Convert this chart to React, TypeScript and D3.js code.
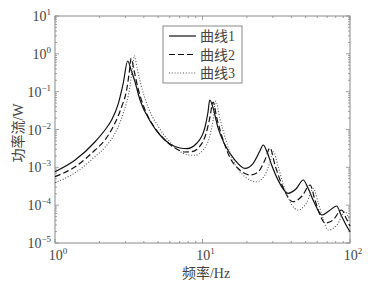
import React from "react";
import * as d3 from "d3";

// 曲线1 (solid)
const freq1 = [1, 1.37, 1.87, 2.18, 2.42, 2.69, 2.9, 3.11, 3.28, 3.49, 3.77, 4.41, 5.15, 6.02, 7.04, 7.85, 9.18, 10.4, 10.9, 11.2, 11.8, 12.7, 14.2, 16.6, 19.4, 22.0, 24.5, 25.8, 27.4, 29.6, 32.5, 38.0, 43.0, 48.2, 51.9, 57.0, 64.6, 72.0, 81.2, 86.9, 94.0, 100];
const power1 = [7.66e-4, 1.56e-3, 4.75e-3, 9.7e-3, 1.78e-2, 4.92e-2, 0.166, 0.646, 0.374, 0.18, 0.0602, 0.0168, 7.15e-3, 4.13e-3, 3.24e-3, 3.14e-3, 4.4e-3, 0.0116, 0.029, 0.0602, 0.037, 0.0116, 3.89e-3, 1.56e-3, 9.42e-4, 1.26e-3, 2.7e-3, 3.89e-3, 2.54e-3, 1.08e-3, 4.62e-4, 2.06e-4, 2.67e-4, 4.62e-4, 2.84e-4, 1.21e-4, 5.5e-5, 7.0e-5, 9.5e-5, 5.5e-5, 2.99e-5, 1.99e-5];

// 曲线2 (dashed)
const freq2 = [1, 1.37, 1.87, 2.18, 2.48, 2.83, 3.06, 3.19, 3.28, 3.43, 3.65, 4.08, 4.76, 5.57, 6.51, 7.61, 8.49, 9.62, 10.6, 11.2, 11.8, 12.5, 13.8, 15.4, 17.9, 21.0, 23.8, 26.5, 28.7, 31.0, 34.6, 41.1, 47.3, 53.6, 57.9, 62.6, 67.7, 76.7, 87.8, 94.0, 100];
const power2 = [5.65e-4, 1.04e-3, 2.87e-3, 5.27e-3, 1.19e-2, 4.0e-2, 0.111, 0.331, 0.762, 0.374, 0.125, 0.0327, 0.0109, 5.27e-3, 3.24e-3, 2.54e-3, 2.59e-3, 3.66e-3, 8.07e-3, 0.0201, 0.0533, 0.0201, 5.27e-3, 1.76e-3, 8.49e-4, 6.27e-4, 7.52e-4, 1.56e-3, 3.24e-3, 1.15e-3, 3.41e-4, 1.23e-4, 1.75e-4, 3.41e-4, 1.37e-4, 5.5e-5, 3.38e-5, 4.05e-5, 7.45e-5, 4.57e-5, 2.81e-5];

// 曲线3 (dotted)
const freq3 = [1, 1.37, 1.87, 2.18, 2.55, 2.9, 3.22, 3.35, 3.45, 3.6, 3.83, 4.27, 4.99, 5.84, 6.82, 7.97, 8.9, 10.1, 11.1, 11.8, 12.3, 13.1, 14.4, 16.1, 18.8, 23.3, 26.5, 28.7, 30.2, 32.5, 36.3, 44.4, 51.1, 56.4, 60.7, 65.6, 70.9, 81.6, 92.5, 96.9, 100];
const power3 = [3.92e-4, 7.21e-4, 1.91e-3, 3.38e-3, 7.93e-3, 0.0268, 0.135, 0.422, 0.893, 0.422, 0.15, 0.0394, 0.0124, 5.27e-3, 2.87e-3, 2.12e-3, 2.08e-3, 2.87e-3, 5.96e-3, 0.0178, 0.0566, 0.0201, 5.27e-3, 1.56e-3, 6.27e-4, 4.17e-4, 6.27e-4, 1.38e-3, 2.59e-3, 1.08e-3, 2.51e-4, 7.45e-5, 1.21e-4, 2.79e-4, 1.21e-4, 4.57e-5, 2.2e-5, 2.99e-5, 6.71e-5, 5.16e-5, 4.05e-5];

const seriesNames = ["曲线1", "曲线2", "曲线3"];
const xTickExps = [0, 1, 2];
const yTickExps = [1, 0, -1, -2, -3, -4, -5];
const xTitle = "频率/Hz";
const yTitle = "功率流/W";

const W = 368;
const H = 286;
const M = { left: 55, right: 350, top: 16, bottom: 243 };

export default function App() {
  const x = d3.scaleLog().domain([1, 100]).range([M.left, M.right]);
  const y = d3.scaleLog().domain([1e-5, 10]).range([M.bottom, M.top]);

  const line = d3
    .line<[number, number]>()
    .x((d) => x(d[0]))
    .y((d) => y(d[1]))
    .curve(d3.curveMonotoneX);

  const series = [
    { f: freq1, p: power1, dash: "none", color: "#111", w: 1.2 },
    { f: freq2, p: power2, dash: "6,3", color: "#111", w: 1.2 },
    { f: freq3, p: power3, dash: "1,1.8", color: "#555", w: 1.1 },
  ];

  const axisColor = "#8a8a8a";
  const textColor = "#444";
  const font = "'Liberation Serif', 'Times New Roman', 'Noto Sans CJK SC', serif";

  const xMinor: number[] = [];
  for (let e = 0; e < 2; e++) for (let k = 1; k <= 9; k++) xMinor.push(k * Math.pow(10, e));
  xMinor.push(100);
  const yMinor: number[] = [];
  for (let e = -5; e < 1; e++) for (let k = 1; k <= 9; k++) yMinor.push(k * Math.pow(10, e));
  yMinor.push(10);

  const isMajor = (v: number) => Math.abs(Math.log10(v) - Math.round(Math.log10(v))) < 1e-9;

  return (
    <svg width={W} height={H} style={{ position: "absolute", left: 0, top: 0, background: "#fff" }} fontFamily={font}>
      <rect x={0} y={0} width={W} height={H} fill="#fff" />
      {xMinor.map((v, i) => {
        const len = isMajor(v) ? 4 : 2;
        const xx = x(v);
        return (
          <g key={"xt" + i} stroke={axisColor} strokeWidth={0.8}>
            <line x1={xx} x2={xx} y1={M.bottom} y2={M.bottom - len} />
            <line x1={xx} x2={xx} y1={M.top} y2={M.top + len} />
          </g>
        );
      })}
      {yMinor.map((v, i) => {
        const len = isMajor(v) ? 4 : 2;
        const yy = y(v);
        return (
          <g key={"yt" + i} stroke={axisColor} strokeWidth={0.8}>
            <line x1={M.left} x2={M.left + len} y1={yy} y2={yy} />
            <line x1={M.right} x2={M.right - len} y1={yy} y2={yy} />
          </g>
        );
      })}
      <rect x={M.left} y={M.top} width={M.right - M.left} height={M.bottom - M.top} fill="none" stroke={axisColor} strokeWidth={1} />

      {series.map((s, i) => (
        <path
          key={"s" + i}
          d={line(s.f.map((f, j) => [f, s.p[j]] as [number, number])) || ""}
          fill="none"
          stroke={s.color}
          strokeWidth={s.w}
          strokeDasharray={s.dash}
        />
      ))}

      {yTickExps.map((e) => (
        <text key={"yl" + e} x={51} y={y(Math.pow(10, e)) + 5} textAnchor="end" fill={textColor} fontSize={14}>
          10
          <tspan fontSize={9} dy={-6}>
            {e < 0 ? "−" + Math.abs(e) : String(e)}
          </tspan>
        </text>
      ))}
      {xTickExps.map((e) => (
        <text key={"xl" + e} x={x(Math.pow(10, e)) + 3} y={260} textAnchor="middle" fill={textColor} fontSize={14}>
          10
          <tspan fontSize={9} dy={-6}>
            {String(e)}
          </tspan>
        </text>
      ))}

      <text x={206} y={278} textAnchor="middle" fill={textColor} fontSize={14}>
        {xTitle}
      </text>
      <text transform="translate(23,133) rotate(-90)" textAnchor="middle" fill={textColor} fontSize={14}>
        {yTitle}
      </text>

      <rect x={163} y={26} width={79} height={57} fill="#fff" stroke={axisColor} strokeWidth={1} />
      {seriesNames.map((n, i) => {
        const yy = 36 + i * 18.5;
        const s = series[i];
        return (
          <g key={"lg" + i}>
            <line x1={169} x2={196} y1={yy} y2={yy} stroke={s.color} strokeWidth={s.w} strokeDasharray={s.dash} />
            <text x={200} y={yy + 5} fill={textColor} fontSize={14}>
              {n}
            </text>
          </g>
        );
      })}
    </svg>
  );
}
